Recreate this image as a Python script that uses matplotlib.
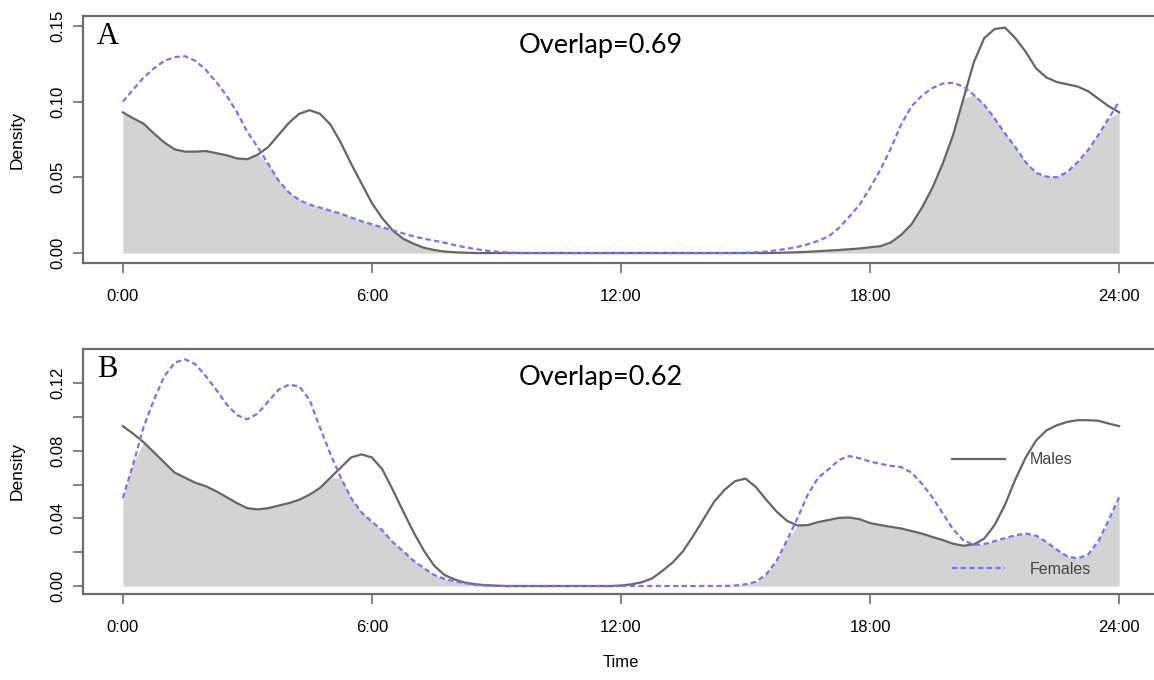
import numpy as np
import matplotlib
matplotlib.use("Agg")
import matplotlib.pyplot as plt

# hours of the day, 0:00 .. 24:00 every quarter hour
hours = np.arange(0, 24.001, 0.25)

# panel A densities (one row = 2 hours)
males_a = [0.093, 0.089, 0.0855, 0.079, 0.073, 0.0685, 0.067, 0.067,
           0.0674, 0.066, 0.0646, 0.0625, 0.062, 0.065, 0.070, 0.078,
           0.086, 0.092, 0.0944, 0.092, 0.085, 0.073, 0.059, 0.046,
           0.033, 0.023, 0.015, 0.0095, 0.0062, 0.0035, 0.002, 0.001,
           0.0005, 0.0002, 0, 0, 0, 0, 0, 0,
           0, 0, 0, 0, 0, 0, 0, 0,
           0, 0, 0, 0, 0, 0, 0, 0,
           0, 0, 0, 0, 0, 0, 0, 0.0001,
           0.0003, 0.0005, 0.0008, 0.0012, 0.0016, 0.002, 0.0025, 0.003,
           0.0038, 0.0045, 0.007, 0.012, 0.019, 0.030, 0.043, 0.059,
           0.078, 0.102, 0.126, 0.142, 0.148, 0.149, 0.142, 0.133,
           0.122, 0.116, 0.113, 0.1115, 0.110, 0.107, 0.102, 0.097,
           0.093]
females_a = [0.100, 0.108, 0.116, 0.122, 0.127, 0.1295, 0.130, 0.127,
             0.121, 0.113, 0.104, 0.093, 0.080, 0.070, 0.059, 0.048,
             0.040, 0.035, 0.032, 0.030, 0.028, 0.026, 0.0235, 0.021,
             0.019, 0.017, 0.015, 0.013, 0.011, 0.0095, 0.0082, 0.0068,
             0.0052, 0.0038, 0.0026, 0.0016, 0.0009, 0.0004, 0.0001, 0,
             0, 0, 0, 0, 0, 0, 0, 0,
             0, 0, 0, 0, 0, 0, 0, 0,
             0, 0, 0, 0, 0.0002, 0.0005, 0.001, 0.0018,
             0.0028, 0.004, 0.0058, 0.008, 0.011, 0.0165, 0.024, 0.032,
             0.043, 0.055, 0.069, 0.085, 0.097, 0.104, 0.109, 0.112,
             0.1125, 0.110, 0.1045, 0.098, 0.089, 0.079, 0.070, 0.060,
             0.053, 0.0505, 0.050, 0.0535, 0.060, 0.068, 0.078, 0.089,
             0.100]

# panel B densities (one row = 2 hours)
males_b = [0.0945, 0.090, 0.085, 0.079, 0.073, 0.067, 0.064, 0.061,
           0.059, 0.056, 0.0525, 0.049, 0.046, 0.0453, 0.046, 0.0475,
           0.049, 0.051, 0.054, 0.058, 0.064, 0.070, 0.076, 0.0778,
           0.076, 0.069, 0.057, 0.0443, 0.032, 0.021, 0.012, 0.0065,
           0.0038, 0.002, 0.001, 0.0005, 0.0002, 0, 0, 0,
           0, 0, 0, 0, 0, 0, 0, 0,
           0.0003, 0.001, 0.0022, 0.0045, 0.009, 0.014, 0.0207, 0.030,
           0.040, 0.050, 0.057, 0.062, 0.0635, 0.0585, 0.051, 0.044,
           0.0385, 0.0358, 0.036, 0.0378, 0.039, 0.0403, 0.0405, 0.0395,
           0.0372, 0.036, 0.035, 0.034, 0.0325, 0.031, 0.029, 0.0272,
           0.025, 0.0238, 0.0246, 0.028, 0.036, 0.048, 0.063, 0.076,
           0.086, 0.092, 0.095, 0.097, 0.098, 0.098, 0.0977, 0.096,
           0.0945]
females_b = [0.052, 0.072, 0.094, 0.110, 0.124, 0.132, 0.134, 0.131,
             0.124, 0.116, 0.1074, 0.101, 0.0985, 0.102, 0.109, 0.116,
             0.119, 0.118, 0.110, 0.0936, 0.078, 0.064, 0.052, 0.0435,
             0.038, 0.033, 0.026, 0.0207, 0.015, 0.0106, 0.0065, 0.0042,
             0.0027, 0.0016, 0.0008, 0.0003, 0.0001, 0, 0, 0,
             0, 0, 0, 0, 0, 0, 0, 0,
             0, 0, 0, 0, 0, 0, 0, 0,
             0, 0, 0, 0.0003, 0.001, 0.0025, 0.0069, 0.015,
             0.027, 0.040, 0.054, 0.064, 0.069, 0.0745, 0.0768, 0.0755,
             0.0735, 0.0722, 0.071, 0.0703, 0.067, 0.0605, 0.0525, 0.043,
             0.0335, 0.027, 0.0243, 0.0248, 0.0265, 0.0283, 0.030, 0.031,
             0.0298, 0.026, 0.0215, 0.0175, 0.0163, 0.0185, 0.0265, 0.039,
             0.0525]

xtick_hours = [0, 6, 12, 18, 24]
xtick_labels = ["0:00", "6:00", "12:00", "18:00", "24:00"]

yticks_a = [0.00, 0.05, 0.10, 0.15]
ylabels_a = ["0.00", "0.05", "0.10", "0.15"]
yticks_b = [0.00, 0.02, 0.04, 0.06, 0.08, 0.10, 0.12]
ylabels_b = ["0.00", "", "0.04", "", "0.08", "", "0.12"]

panels = [
    ("A", "Overlap=0.69", males_a, females_a, yticks_a, ylabels_a, (-0.0066, 0.1566)),
    ("B", "Overlap=0.62", males_b, females_b, yticks_b, ylabels_b, (-0.0047, 0.1401)),
]

plt.rcParams["font.family"] = ["Liberation Sans", "DejaVu Sans"]

FRAME = "#6e6e6e"
MALE = "#666666"
FEMALE = "#7272ff"

fig = plt.figure(figsize=(11.54, 6.8), dpi=100)
axes = [fig.add_axes([0.0719, 0.6132, 0.9324, 0.3632]),
        fig.add_axes([0.0719, 0.1265, 0.9324, 0.3603])]

for ax, (letter, overlap, males, females, yt, yl, ylim) in zip(axes, panels):
    m = np.array(males)
    f = np.array(females)
    ax.fill_between(hours, 0, np.minimum(m, f), color="#d3d3d3", lw=0, zorder=1)
    ax.plot(hours, m, color=MALE, lw=1.6, zorder=3, label="Males")
    ax.plot(hours, f, color=FEMALE, lw=1.6, dashes=(2.4, 1.5), zorder=4, label="Females")

    ax.set_xlim(-0.96, 24.96)
    ax.set_ylim(*ylim)
    ax.set_xticks(xtick_hours)
    ax.set_xticklabels(xtick_labels, fontsize=12)
    ax.set_yticks(yt)
    ax.set_yticklabels(yl, fontsize=12)
    for lbl in ax.get_yticklabels():
        lbl.set_rotation(90)
        lbl.set_va("center")
    ax.tick_params(length=7, width=1.2, color=FRAME, pad=6)
    ax.tick_params(axis="x", pad=12)
    for sp in ax.spines.values():
        sp.set_color(FRAME)
        sp.set_linewidth(1.6)
    ax.set_ylabel("Density", fontsize=12.5, labelpad=18)

    ax.text(0.013, 0.975, letter, transform=ax.transAxes, ha="left", va="top",
            fontsize=22, family="Liberation Serif")
    ax.text(0.481, 0.852, overlap, transform=ax.transAxes, ha="center", va="baseline",
            fontsize=19.5, family="Lato")

axes[1].set_xlabel("Time", fontsize=12, labelpad=14)
leg = axes[1].legend(loc="upper left", bbox_to_anchor=(0.808, 0.578), frameon=False,
                     fontsize=11.5, handlelength=3.3, handletextpad=1.55,
                     labelspacing=5.9, borderpad=0, borderaxespad=0)
for t in leg.get_texts():
    t.set_color("#444444")

fig.savefig("out.png", dpi=100)
